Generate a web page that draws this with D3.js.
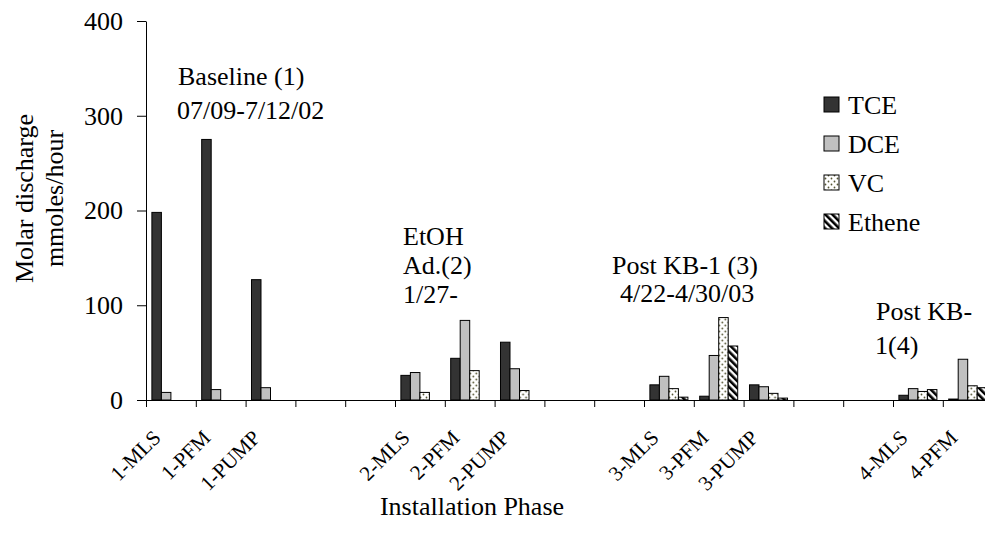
<!DOCTYPE html>
<html>
<head>
<meta charset="utf-8">
<script src="https://cdn.jsdelivr.net/npm/d3@7"></script>
<style>
  body { margin: 0; background: #fff; }
  svg { font-family: "Liberation Serif", "Times New Roman", serif; }
</style>
</head>
<body>
<div id="vis-holder"></div>
<script>
// categories along x, blanks are the gaps between phases
const categories = ["1-MLS", "1-PFM", "1-PUMP", "", "",
                    "2-MLS", "2-PFM", "2-PUMP", "", "",
                    "3-MLS", "3-PFM", "3-PUMP", "", "",
                    "4-MLS", "4-PFM"];
const seriesNames = ["TCE", "DCE", "VC", "Ethene"];

const tce    = [198, 275, 127, null, null, 26, 44, 61, null, null, 16, 4, 16, null, null, 5, 1];
const dce    = [8, 11, 13, null, null, 29, 84, 33, null, null, 25, 47, 14, null, null, 12, 43];
const vc     = [0, 0, 0, null, null, 8, 31, 10, null, null, 12, 87, 7, null, null, 9, 15];
const ethene = [0, 0, 0, null, null, 0, 0, 0, null, null, 3, 57, 2, null, null, 11, 13];

const yTicks = [0, 100, 200, 300, 400];

const annotations = [
  {lines: ["Baseline (1)", "07/09-7/12/02"], x: 178, y: [85, 119], dx: [0, -1]},
  {lines: ["EtOH", "Ad.(2)", "1/27-"], x: 403, y: [245, 274, 303], dx: [0, 0, 0]},
  {lines: ["Post KB-1 (3)", "4/22-4/30/03"], x: 612, y: [274, 302], dx: [0, 8]},
  {lines: ["Post KB-", "1(4)"], x: 876, y: [320, 354], dx: [0, -1]}
];

const width = 985, height = 539;
const margin = {top: 21, left: 146, bottom: 139};
const catStep = 49.8;

const svg = d3.select("#vis-holder")
  .append("svg")
  .attr("width", width)
  .attr("height", height);

// pattern fills for VC (dots) and Ethene (stripes)
const defs = svg.append("defs");
const dots = defs.append("pattern")
  .attr("id", "dots").attr("patternUnits", "userSpaceOnUse")
  .attr("width", 6).attr("height", 6);
dots.append("rect").attr("width", 6).attr("height", 6).attr("fill", "#fff");
dots.append("circle").attr("cx", 1.5).attr("cy", 1.5).attr("r", 0.9).attr("fill", "#555533");
dots.append("circle").attr("cx", 4.5).attr("cy", 4.5).attr("r", 0.9).attr("fill", "#555533");

const stripes = defs.append("pattern")
  .attr("id", "stripes").attr("patternUnits", "userSpaceOnUse")
  .attr("width", 5).attr("height", 5)
  .attr("patternTransform", "rotate(-45)");
stripes.append("rect").attr("width", 5).attr("height", 5).attr("fill", "#fff");
stripes.append("rect").attr("width", 2.6).attr("height", 5).attr("fill", "#000");

const fills = {TCE: "#333333", DCE: "#c0c0c0", VC: "url(#dots)", Ethene: "url(#stripes)"};

const rows = categories.map((c, i) => ({
  i: i, cat: c, TCE: tce[i], DCE: dce[i], VC: vc[i], Ethene: ethene[i]
}));

const x0 = d3.scaleBand()
  .domain(d3.range(categories.length))
  .range([margin.left, margin.left + catStep * categories.length])
  .padding(0);

const x1 = d3.scaleBand()
  .domain(seriesNames)
  .range([0, x0.bandwidth()])
  .paddingInner(0)
  .paddingOuter(0.62);

const xTickScale = d3.scaleLinear()
  .domain([0, categories.length])
  .range(x0.range());

const y = d3.scaleLinear()
  .domain([0, 400])
  .range([height - margin.bottom, margin.top]);

// bars
const groups = svg.append("g").selectAll("g")
  .data(rows)
  .enter()
  .append("g")
  .attr("transform", d => `translate(${x0(d.i)},0)`);

groups.selectAll("rect")
  .data(d => seriesNames.map(s => ({key: s, value: d[s]})).filter(v => v.value))
  .enter()
  .append("rect")
  .attr("x", d => x1(d.key))
  .attr("y", d => y(d.value))
  .attr("width", x1.bandwidth())
  .attr("height", d => y(0) - y(d.value))
  .attr("fill", d => fills[d.key])
  .attr("stroke", "#000")
  .attr("stroke-width", 1);

// x axis: tick marks at the category boundaries
svg.append("g")
  .attr("transform", `translate(0,${y(0)})`)
  .call(d3.axisBottom(xTickScale)
    .tickValues(d3.range(categories.length + 1))
    .tickFormat("")
    .tickSize(7)
    .tickSizeOuter(0))
  .call(g => g.select(".domain").attr("stroke", "#000"));

// rotated category labels
svg.append("g").selectAll("text")
  .data(rows.filter(d => d.cat))
  .enter()
  .append("text")
  .attr("transform", d => `translate(${x0(d.i) + x0.bandwidth() / 2 - 9},${y(0) + 39}) rotate(-45)`)
  .attr("text-anchor", "end")
  .attr("font-size", 21)
  .text(d => d.cat);

// y axis
svg.append("g")
  .attr("transform", `translate(${margin.left},0)`)
  .call(d3.axisLeft(y).tickValues(yTicks).tickSize(9).tickSizeOuter(0).tickPadding(14))
  .call(g => g.selectAll("text")
    .attr("font-size", 26)
    .attr("font-family", "Liberation Serif, Times New Roman, serif")
    .attr("fill", "#000"))
  .call(g => g.selectAll("line, .domain").attr("stroke", "#000"));

// y title
const yTitle = svg.append("text")
  .attr("transform", `translate(33,${(y(0) + y(400)) / 2 - 12}) rotate(-90)`)
  .attr("text-anchor", "middle")
  .attr("font-size", 26);
yTitle.append("tspan").attr("x", 0).attr("y", 0).text("Molar discharge");
yTitle.append("tspan").attr("x", 0).attr("y", 30).text("mmoles/hour");

// x title
svg.append("text")
  .attr("x", 472)
  .attr("y", 515)
  .attr("text-anchor", "middle")
  .attr("font-size", 26)
  .text("Installation Phase");

// phase annotations
annotations.forEach(a => {
  const t = svg.append("text").attr("font-size", 26);
  a.lines.forEach((l, k) => {
    t.append("tspan")
      .attr("x", a.x + a.dx[k])
      .attr("y", a.y[k])
      .text(l);
  });
});

// legend
const legend = svg.append("g").attr("transform", "translate(824,105)");
const items = legend.selectAll("g")
  .data(seriesNames)
  .enter()
  .append("g")
  .attr("transform", (d, i) => `translate(0,${i * 39})`);
items.append("rect")
  .attr("x", 0).attr("y", -8)
  .attr("width", 15).attr("height", 15)
  .attr("fill", d => fills[d])
  .attr("stroke", "#000");
items.append("text")
  .attr("x", 24).attr("y", 9)
  .attr("font-size", 26)
  .text(d => d);
</script>
</body>
</html>
